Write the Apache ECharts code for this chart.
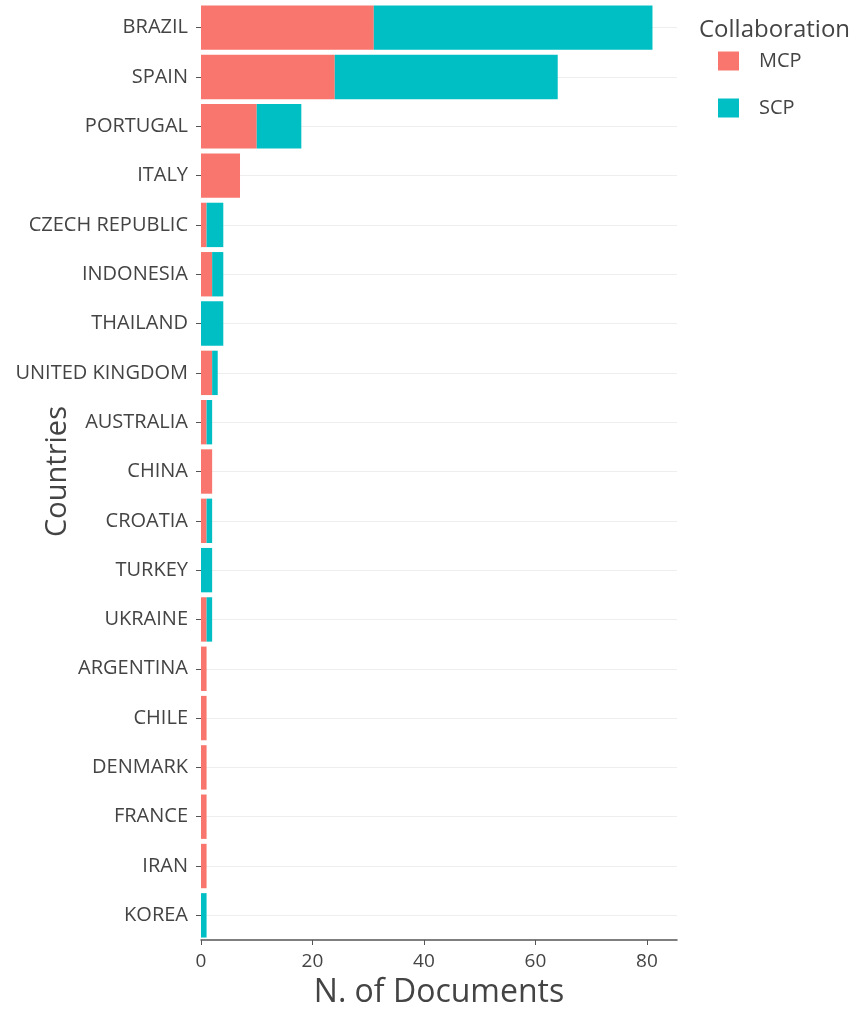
<!DOCTYPE html>
<html>
<head>
<meta charset="utf-8">
<title>Countries by collaboration</title>
<script src="https://cdn.jsdelivr.net/npm/echarts@6/dist/echarts.min.js"></script>
<style>
  html, body { margin: 0; padding: 0; background: #fff; }
  #chart { width: 856px; height: 1010px; }
</style>
</head>
<body>
<div id="chart"></div>
<script>
// countries, top to bottom
const countries = ['BRAZIL', 'SPAIN', 'PORTUGAL', 'ITALY', 'CZECH REPUBLIC', 'INDONESIA', 'THAILAND',
  'UNITED KINGDOM', 'AUSTRALIA', 'CHINA', 'CROATIA', 'TURKEY', 'UKRAINE', 'ARGENTINA', 'CHILE',
  'DENMARK', 'FRANCE', 'IRAN', 'KOREA']
const mcpValues = [31, 24, 10, 7, 1, 2, 0, 2, 1, 2, 1, 0, 1, 1, 1, 1, 1, 1, 0]
const scpValues = [50, 40, 8, 0, 3, 2, 4, 1, 1, 0, 1, 2, 1, 0, 0, 0, 0, 0, 1]
const xTicks = [0, 20, 40, 60, 80]

const textColor = '#444'
const font = '"Open Sans", sans-serif'

const chart = echarts.init(document.getElementById('chart'))

const option = {
  animation: false,
  textStyle: { fontFamily: font },
  title: {
    text: 'Collaboration',
    left: 694,
    top: 13,
    textStyle: { fontFamily: font, fontSize: 24, fontWeight: 'normal', color: textColor }
  },
  legend: {
    orient: 'vertical',
    left: 713,
    top: 46,
    icon: 'rect',
    itemWidth: 21,
    itemHeight: 19,
    itemGap: 27,
    textStyle: { fontFamily: font, fontSize: 20, color: textColor, padding: [0, 0, 0, 15] },
    data: ['MCP', 'SCP']
  },
  grid: { left: 201, right: 179, top: 3, bottom: 70, outerBoundsMode: 'none' },
  xAxis: {
    type: 'value',
    min: 0,
    max: 85.4,
    interval: 20,
    name: 'N. of Documents',
    nameLocation: 'middle',
    nameGap: 37,
    nameMoveOverlap: false,
    nameTextStyle: { fontFamily: font, fontSize: 32, color: textColor },
    axisLine: { show: true, lineStyle: { color: '#555', width: 1.5 } },
    axisTick: { show: true, length: 5, customValues: xTicks, lineStyle: { color: '#555' } },
    axisLabel: { fontFamily: font, fontSize: 19, color: textColor, margin: 12, customValues: xTicks },
    splitLine: { show: false }
  },
  yAxis: {
    type: 'category',
    inverse: true,
    data: countries,
    offset: 3,
    name: 'Countries',
    nameLocation: 'middle',
    nameGap: 126,
    nameMoveOverlap: false,
    nameTextStyle: { fontFamily: font, fontSize: 29, color: textColor },
    axisLine: { show: false },
    axisTick: { show: true, alignWithLabel: true, length: 5, lineStyle: { color: '#555' } },
    axisLabel: { fontFamily: font, fontSize: 20, color: textColor, margin: 10 },
    splitLine: { show: false }
  },
  series: [
    {
      name: 'MCP',
      type: 'bar',
      stack: 'total',
      barWidth: '90%',
      itemStyle: { color: '#F8766D' },
      data: mcpValues,
      // horizontal guide lines through each category centre
      markLine: {
        z: 1,
        silent: true,
        symbol: 'none',
        label: { show: false },
        lineStyle: { color: '#eeeeee', type: 'solid', width: 1 },
        data: countries.map(c => ({ yAxis: c }))
      }
    },
    {
      name: 'SCP',
      type: 'bar',
      stack: 'total',
      barWidth: '90%',
      itemStyle: { color: '#00BFC4' },
      data: scpValues
    }
  ]
}

chart.setOption(option)
</script>
</body>
</html>
